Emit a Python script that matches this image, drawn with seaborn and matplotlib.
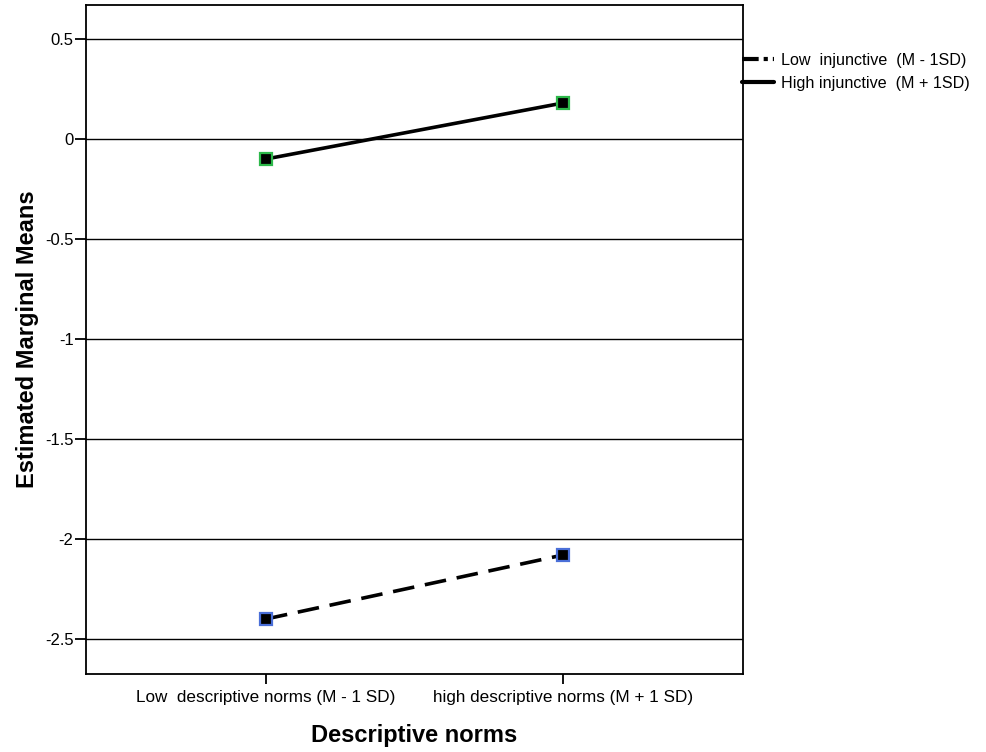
import matplotlib
matplotlib.use("Agg")
import matplotlib.pyplot as plt
from matplotlib.lines import Line2D
import seaborn as sns
import pandas as pd

categories = ["Low  descriptive norms (M - 1 SD)", "high descriptive norms (M + 1 SD)"]
groups = ["Low  injunctive  (M - 1SD)", "High injunctive  (M + 1SD)"]
low_inj = [-2.40, -2.08]
high_inj = [-0.10, 0.18]
yticks = [0.5, 0, -0.5, -1, -1.5, -2, -2.5]
ytick_labels = ["0.5", "0", "-0.5", "-1", "-1.5", "-2", "-2.5"]

df = pd.DataFrame({
    "x": [0, 1, 0, 1],
    "y": low_inj + high_inj,
    "group": [groups[0]] * 2 + [groups[1]] * 2,
})

sns.set_style("white")
plt.rcParams["font.family"] = ["Liberation Sans", "DejaVu Sans"]
plt.rcParams["text.color"] = "black"
plt.rcParams["axes.labelcolor"] = "black"
plt.rcParams["xtick.color"] = "black"
plt.rcParams["ytick.color"] = "black"

fig = plt.figure(figsize=(9.87, 7.52), dpi=100)
ax = fig.add_axes([86 / 987, 1 - 674 / 752, (743 - 86) / 987, (674 - 5) / 752])

edge_colors = {groups[0]: "#4a6fd8", groups[1]: "#2db84a"}
dash_map = {groups[0]: (6, 3), groups[1]: ""}
for g in groups:
    sub = df[df["group"] == g]
    sns.lineplot(data=sub, x="x", y="y", ax=ax, color="black", linewidth=2.6,
                 dashes=False, legend=False, marker="s", markersize=9,
                 markerfacecolor="black", markeredgecolor=edge_colors[g],
                 markeredgewidth=1.6)
    ln = ax.lines[-1]
    if dash_map[g]:
        ln.set_dashes(dash_map[g])

ax.set_xlim(-0.606, 1.606)
ax.set_ylim(-2.675, 0.67)
ax.set_yticks(yticks)
ax.set_yticklabels(ytick_labels)
ax.set_xticks([0, 1])
ax.set_xticklabels(categories)
for y in yticks:
    ax.axhline(y, color="black", linewidth=1.0, zorder=0)

for s in ax.spines.values():
    s.set_color("black")
    s.set_linewidth(1.3)
ax.tick_params(axis="y", direction="out", length=8, width=1.3, labelsize=12, left=True, pad=1)
ax.tick_params(axis="x", direction="out", length=7.5, width=1.3, labelsize=12.3, bottom=True, pad=4)

ax.set_xlabel("Descriptive norms", fontsize=17, fontweight="bold", labelpad=14)
ax.set_ylabel("Estimated Marginal Means", fontsize=17, fontweight="bold", labelpad=4)

handles = [
    Line2D([], [], color="black", linewidth=3, dashes=(4, 1.2, 1.0, 1.2)),
    Line2D([], [], color="black", linewidth=3),
]
fig.legend(handles, groups, loc="upper left", bbox_to_anchor=(742 / 987, 1 - 53 / 752),
           frameon=False, fontsize=11.6, handlelength=2.0, handletextpad=0.4,
           labelspacing=0.5, borderaxespad=0, borderpad=0)

fig.savefig("out.png", dpi=100)
